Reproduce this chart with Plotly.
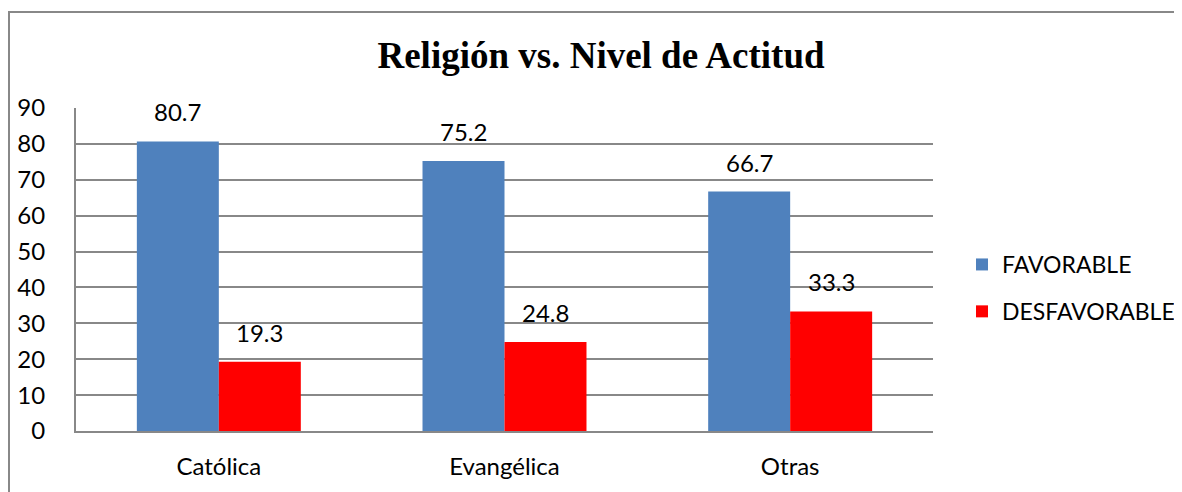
import plotly.graph_objects as go

categories = ["Católica", "Evangélica", "Otras"]
favorable = [80.7, 75.2, 66.7]
desfavorable = [19.3, 24.8, 33.3]
y_ticks = [0, 10, 20, 30, 40, 50, 60, 70, 80, 90]

O = 8  # page body margin
W, H = 1182 - O, 492 - O
# plot area in reference page coordinates
PL, PR, PT, PB = 76, 933, 108, 431
L, R, T, B = PL - O, W - (PR - O), PT - O, H - (PB - O)
pw, ph = W - L - R, H - T - B

def px(x):
    return (x - O - L) / pw

def py(y):
    return (H - B - (y - O)) / ph

font_main = "Lato, 'Open Sans', sans-serif"
grid = "#888888"
bargap = 0.426
bar_px = pw / len(categories) * (1 - bargap) / 2

fig = go.Figure()
fig.add_trace(go.Bar(
    x=categories, y=favorable, name="FAVORABLE",
    marker=dict(color="#4F81BD", line=dict(width=0)),
    legendgroup="a",
))
fig.add_trace(go.Bar(
    x=categories, y=desfavorable, name="DESFAVORABLE",
    marker=dict(color="#FF0000", line=dict(width=0)),
    legendgroup="b",
))

annotations = []
for series, shift in ((favorable, -bar_px / 2), (desfavorable, bar_px / 2)):
    for c, v in zip(categories, series):
        annotations.append(dict(
            x=c, y=v, xref="x", yref="y", text=f"{v:.1f}", showarrow=False,
            xanchor="center", yanchor="bottom", xshift=shift, yshift=13,
            font=dict(size=24, color="#000"),
        ))

fig.update_layout(
    width=W, height=H,
    margin=dict(l=L, r=R, t=T, b=B, autoexpand=False),
    paper_bgcolor="white", plot_bgcolor="white",
    barmode="group", bargap=bargap, bargroupgap=0,
    font=dict(family=font_main, size=24, color="#000"),
    title=dict(
        text="<b>Religión vs. Nivel de Actitud</b>",
        font=dict(family="'Liberation Serif', 'Times New Roman', serif", size=37, color="#000"),
        x=(601 - O) / W, xanchor="center", y=1 - (55 - O) / H, yanchor="middle",
    ),
    showlegend=True,
    legend=dict(
        x=px(962), xanchor="left", y=py(288), yanchor="middle",
        font=dict(size=23), traceorder="grouped", tracegroupgap=14,
        itemwidth=30, bgcolor="rgba(0,0,0,0)",
    ),
    xaxis=dict(
        showgrid=False, showline=True, linecolor=grid, linewidth=2,
        ticks="", tickfont=dict(size=24), ticklabelstandoff=13,
    ),
    yaxis=dict(
        range=[0, 90], tickvals=y_ticks, showgrid=True, gridcolor=grid, gridwidth=2,
        showline=True, linecolor=grid, linewidth=2, zeroline=False,
        ticks="", tickfont=dict(size=24), ticklabelstandoff=24,
    ),
    annotations=annotations,
    shapes=[
        dict(type="path", xref="paper", yref="paper",
             path=f"M {px(O + 1)} {py(H + 20)} L {px(O + 1)} {py(12)} L {px(W + 20)} {py(12)}",
             line=dict(color=grid, width=2)),
    ],
)

fig.write_html("out.html")
